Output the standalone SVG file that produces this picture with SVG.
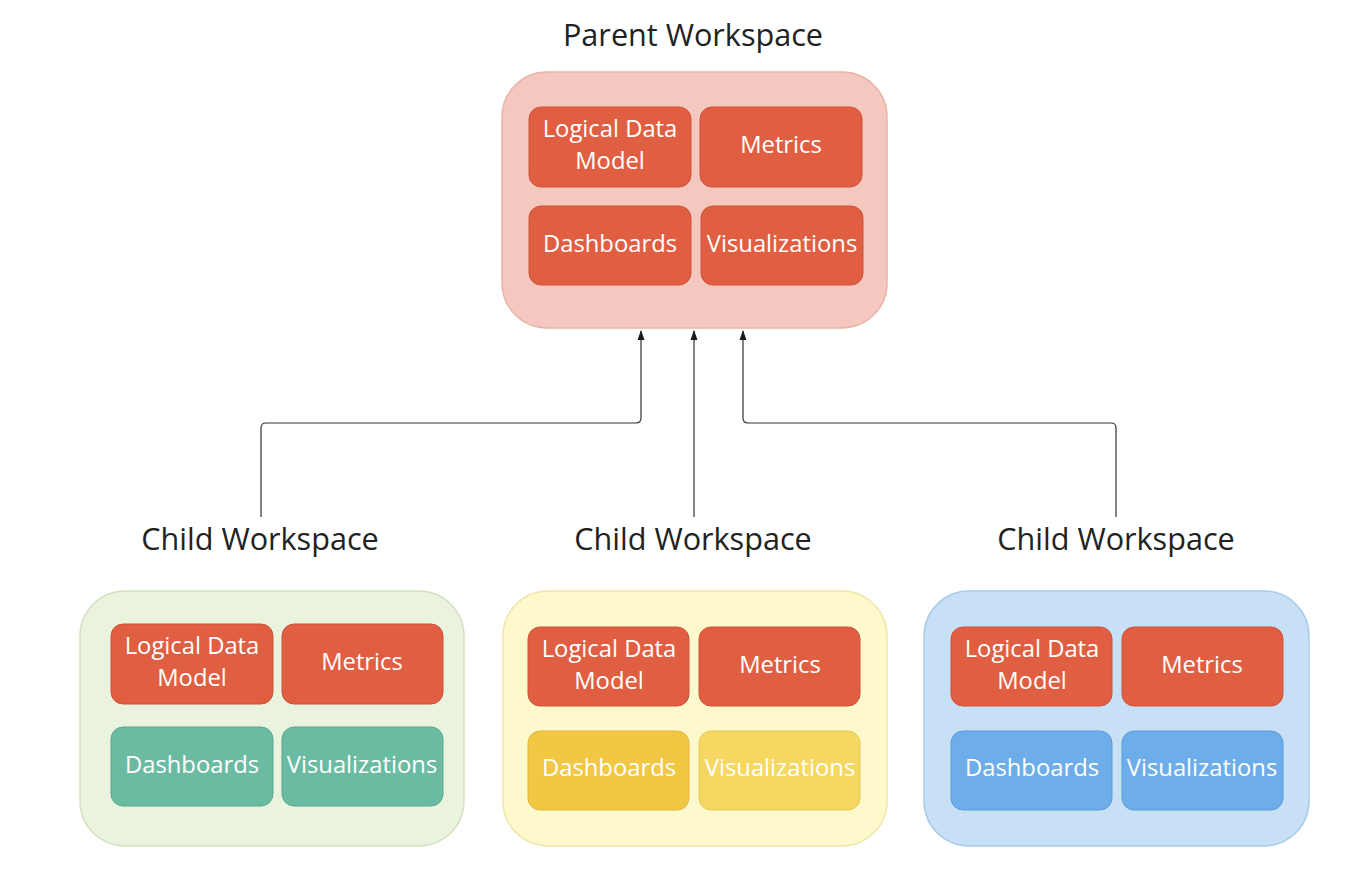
<svg xmlns="http://www.w3.org/2000/svg" width="1356" height="878" viewBox="0 0 1356 878">
<defs>
<marker id="arr" viewBox="0 0 10 10" refX="9" refY="5" markerWidth="10" markerHeight="10" markerUnits="userSpaceOnUse" orient="auto">
<path d="M0,1.5 L10,5 L0,8.5 Z" fill="#1a1a1a"/>
</marker>
</defs>
<style>
.title{font-family:"Open Sans","Liberation Sans",sans-serif;font-size:30.6px;fill:#222;text-anchor:middle}
.lbl{font-family:"Open Sans","Liberation Sans",sans-serif;font-size:23.8px;fill:#fff;text-anchor:middle}
.red{fill:#e05f42;stroke:#cf5238;stroke-width:1}
.teal{fill:#6bbba2;stroke:#5aa98f;stroke-width:1}
.ydark{fill:#f2c744;stroke:#e2b73a;stroke-width:1}
.ylight{fill:#f5d762;stroke:#e6c854;stroke-width:1}
.blue{fill:#6daeea;stroke:#5b9cd9;stroke-width:1}
.conn{fill:none;stroke:#333;stroke-width:1.2}
</style>
<rect width="1356" height="878" fill="#fff"/>

<g id="parent">
<text class="title" x="693" y="46">Parent Workspace</text>
<rect x="502" y="72" width="385" height="256" rx="45" fill="#f4c8be" stroke="#e9b3a8" stroke-width="1.5"/>
<rect class="red" x="529" y="107" width="162" height="80" rx="12"/>
<text class="lbl" x="610" y="137">Logical Data</text>
<text class="lbl" x="610" y="169">Model</text>
<rect class="red" x="700" y="107" width="162" height="80" rx="12"/>
<text class="lbl" x="781" y="153">Metrics</text>
<rect class="red" x="529" y="206" width="162" height="79" rx="12"/>
<text class="lbl" x="610" y="252">Dashboards</text>
<rect class="red" x="701" y="206" width="162" height="79" rx="12"/>
<text class="lbl" x="782" y="252">Visualizations</text>
</g>

<g id="child1">
<text class="title" x="260" y="550">Child Workspace</text>
<rect x="80" y="591" width="384" height="255" rx="45" fill="#eaf3de" stroke="#d3e3c2" stroke-width="1.5"/>
<rect class="red" x="111" y="624" width="162" height="80" rx="12"/>
<text class="lbl" x="192" y="654">Logical Data</text>
<text class="lbl" x="192" y="686">Model</text>
<rect class="red" x="282" y="624" width="161" height="80" rx="12"/>
<text class="lbl" x="362" y="670">Metrics</text>
<rect class="teal" x="111" y="727" width="162" height="79" rx="12"/>
<text class="lbl" x="192" y="773">Dashboards</text>
<rect class="teal" x="282" y="727" width="161" height="79" rx="12"/>
<text class="lbl" x="362" y="773">Visualizations</text>
</g>

<g id="child2">
<text class="title" x="693" y="550">Child Workspace</text>
<rect x="503" y="591" width="384" height="255" rx="45" fill="#fef9cc" stroke="#efe6aa" stroke-width="1.5"/>
<rect class="red" x="528" y="627" width="161" height="79" rx="12"/>
<text class="lbl" x="609" y="657">Logical Data</text>
<text class="lbl" x="609" y="689">Model</text>
<rect class="red" x="699" y="627" width="161" height="79" rx="12"/>
<text class="lbl" x="780" y="673">Metrics</text>
<rect class="ydark" x="528" y="731" width="161" height="79" rx="12"/>
<text class="lbl" x="609" y="776">Dashboards</text>
<rect class="ylight" x="699" y="731" width="161" height="79" rx="12"/>
<text class="lbl" x="780" y="776">Visualizations</text>
</g>

<g id="child3">
<text class="title" x="1116" y="550">Child Workspace</text>
<rect x="924" y="591" width="385" height="255" rx="45" fill="#c7e0f6" stroke="#a8cbea" stroke-width="1.5"/>
<rect class="red" x="951" y="627" width="161" height="79" rx="12"/>
<text class="lbl" x="1032" y="657">Logical Data</text>
<text class="lbl" x="1032" y="689">Model</text>
<rect class="red" x="1122" y="627" width="161" height="79" rx="12"/>
<text class="lbl" x="1202" y="673">Metrics</text>
<rect class="blue" x="951" y="731" width="161" height="79" rx="12"/>
<text class="lbl" x="1032" y="776">Dashboards</text>
<rect class="blue" x="1122" y="731" width="161" height="79" rx="12"/>
<text class="lbl" x="1202" y="776">Visualizations</text>
</g>

<g id="connectors">
<path class="conn" d="M261,517 V428 Q261,423 266,423 H636 Q641,423 641,418 V331" marker-end="url(#arr)"/>
<path class="conn" d="M694,517 V331" marker-end="url(#arr)"/>
<path class="conn" d="M1116,517 V428 Q1116,423 1111,423 H748 Q743,423 743,418 V331" marker-end="url(#arr)"/>
</g>
</svg>
